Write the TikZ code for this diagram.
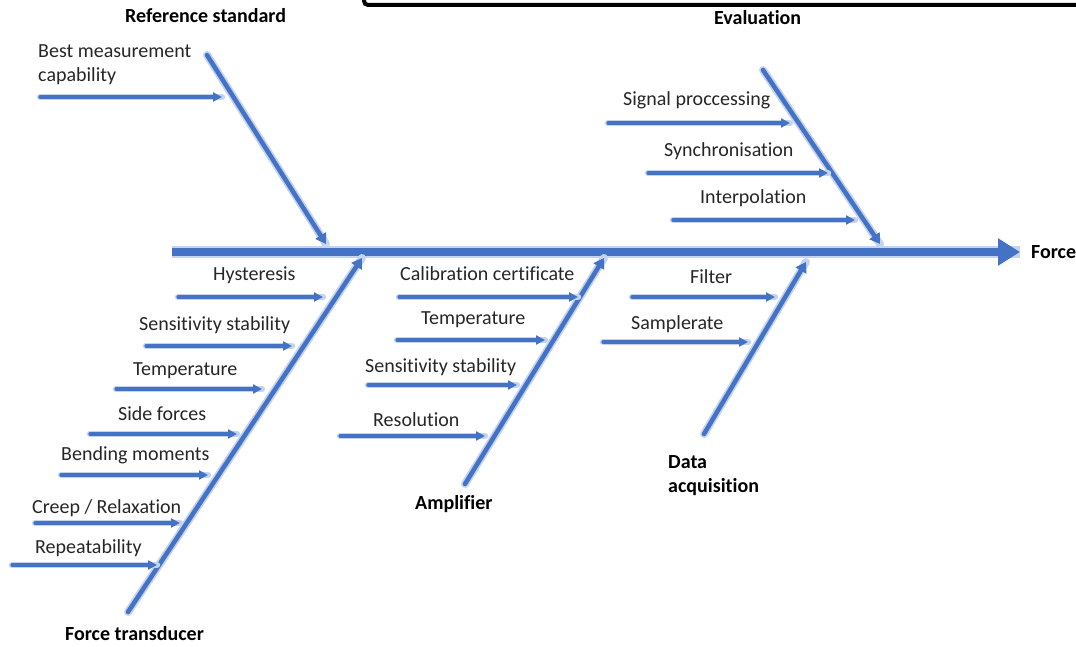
\documentclass[tikz,border=0pt]{standalone}
\usepackage{fontspec}
\setmainfont{Carlito}[Ligatures={NoCommon}]
\usetikzlibrary{arrows.meta}
\definecolor{bone}{RGB}{68,114,196}
\definecolor{glow}{RGB}{196,212,240}
\begin{document}
\begin{tikzpicture}[x=1pt,y=-1pt,
  spine/.style={draw=bone, line width=8pt, -{Triangle[length=22pt,width=26pt]},
    preaction={-, draw=glow, line width=12pt}},
  bonearrow/.style={draw=bone, line width=4.5pt, line cap=round, -{Triangle[length=10pt,width=12pt]},
    preaction={-, draw=glow, line width=8pt, line cap=round}},
  subarrow/.style={draw=bone, line width=3.2pt, line cap=round, -{Triangle[length=9pt,width=9pt]},
    preaction={-, draw=glow, line width=6.5pt, line cap=round}},
  lbl/.style={font=\fontsize{20}{24}\selectfont, inner sep=0pt, text=black!85, anchor=west},
  cat/.style={font=\bfseries\fontsize{20}{24}\selectfont, inner sep=0pt, align=left, anchor=west}]
\useasboundingbox (0,0) rectangle (1076,647);
% top frame
\draw[line width=4pt, rounded corners=4pt] (364,-40) -- (364,5) -- (1100,5);
% spine
\coordinate (s0) at (172,252);
\coordinate (s1) at (1020,252);
\draw[spine] (s0) -- (s1);
\node[cat] (force) at (1031,252) {Force};
% Reference standard
\coordinate (rs0) at (207,55);
\coordinate (rs1) at (326,244);
\draw[bonearrow] (rs0) -- (rs1);
\node[cat] (rs) at (125,16) {Reference standard};
\coordinate (b1a) at (40,97); \coordinate (b1b) at (222,97);
\draw[subarrow] (b1a) -- (b1b);
\node[lbl, align=left, anchor=north west] (t1) at (38,44) {Best measurement\\capability};
% Evaluation
\coordinate (ev0) at (763,70);
\coordinate (ev1) at (880,244);
\draw[bonearrow] (ev0) -- (ev1);
\node[cat] (ev) at (714,18) {Evaluation};
\coordinate (e1a) at (608,123); \coordinate (e1b) at (790,123);
\draw[subarrow] (e1a) -- (e1b);
\node[lbl] (te1) at (623,100) {Signal proccessing};
\coordinate (e2a) at (648,173); \coordinate (e2b) at (828,173);
\draw[subarrow] (e2a) -- (e2b);
\node[lbl] (te2) at (664,151) {Synchronisation};
\coordinate (e3a) at (673,220); \coordinate (e3b) at (855,220);
\draw[subarrow] (e3a) -- (e3b);
\node[lbl] (te3) at (700,198) {Interpolation};
% Force transducer
\coordinate (ft0) at (128,612);
\coordinate (ft1) at (362,258);
\draw[bonearrow] (ft0) -- (ft1);
\node[cat] (ft) at (65,634) {Force transducer};
\coordinate (f1a) at (178,297); \coordinate (f1b) at (323,297);
\draw[subarrow] (f1a) -- (f1b);
\node[lbl] (tf1) at (213,275) {Hysteresis};
\coordinate (f2a) at (146,346); \coordinate (f2b) at (292,346);
\draw[subarrow] (f2a) -- (f2b);
\node[lbl] (tf2) at (139,325) {Sensitivity stability};
\coordinate (f3a) at (116,389); \coordinate (f3b) at (262,389);
\draw[subarrow] (f3a) -- (f3b);
\node[lbl] (tf3) at (133,371) {Temperature};
\coordinate (f4a) at (90,434); \coordinate (f4b) at (237,434);
\draw[subarrow] (f4a) -- (f4b);
\node[lbl] (tf4) at (118,414) {Side forces};
\coordinate (f5a) at (61,475); \coordinate (f5b) at (208,475);
\draw[subarrow] (f5a) -- (f5b);
\node[lbl] (tf5) at (61,455) {Bending moments};
\coordinate (f6a) at (35,523); \coordinate (f6b) at (180,523);
\draw[subarrow] (f6a) -- (f6b);
\node[lbl] (tf6) at (32,508) {Creep / Relaxation};
\coordinate (f7a) at (12,565); \coordinate (f7b) at (157,565);
\draw[subarrow] (f7a) -- (f7b);
\node[lbl] (tf7) at (35,548) {Repeatability};
% Amplifier
\coordinate (am0) at (465,484);
\coordinate (am1) at (604,258);
\draw[bonearrow] (am0) -- (am1);
\node[cat] (am) at (415,504) {Amplifier};
\coordinate (a1a) at (399,297); \coordinate (a1b) at (578,297);
\draw[subarrow] (a1a) -- (a1b);
\node[lbl] (ta1) at (400,274) {Calibration certificate};
\coordinate (a2a) at (397,340); \coordinate (a2b) at (545,340);
\draw[subarrow] (a2a) -- (a2b);
\node[lbl] (ta2) at (421,320) {Temperature};
\coordinate (a3a) at (368,385); \coordinate (a3b) at (517,385);
\draw[subarrow] (a3a) -- (a3b);
\node[lbl] (ta3) at (365,367) {Sensitivity stability};
\coordinate (a4a) at (340,436); \coordinate (a4b) at (485,436);
\draw[subarrow] (a4a) -- (a4b);
\node[lbl] (ta4) at (373,420) {Resolution};
% Data acquisition
\coordinate (da0) at (704,434);
\coordinate (da1) at (806,262);
\draw[bonearrow] (da0) -- (da1);
\node[cat, anchor=north west] (da) at (668,455) {Data\\acquisition};
\coordinate (d1a) at (632,297); \coordinate (d1b) at (775,297);
\draw[subarrow] (d1a) -- (d1b);
\node[lbl] (td1) at (690,277) {Filter};
\coordinate (d2a) at (603,342); \coordinate (d2b) at (748,342);
\draw[subarrow] (d2a) -- (d2b);
\node[lbl] (td2) at (631,324) {Samplerate};
\end{tikzpicture}
\end{document}
